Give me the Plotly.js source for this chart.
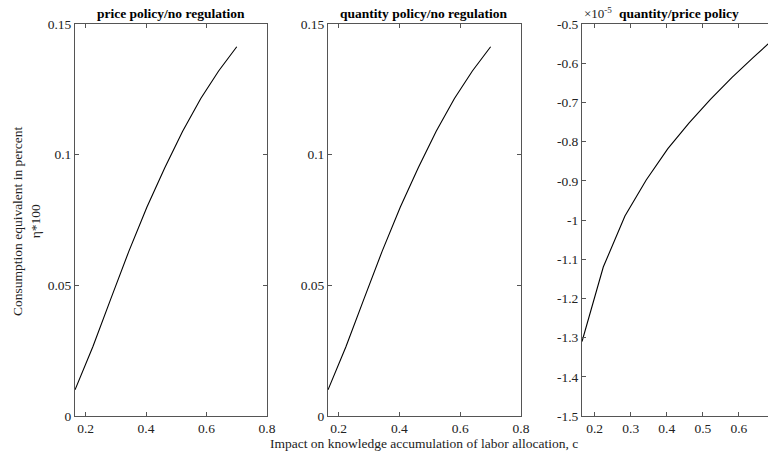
<!DOCTYPE html>
<html>
<head>
<meta charset="utf-8">
<script src="https://cdn.plot.ly/plotly-3.0.1.min.js"></script>
<style>
html,body{margin:0;padding:0;overflow:hidden;width:768px;height:451px;background:#fff;}
#chart{width:780px;height:451px;}
</style>
</head>
<body>
<div id="chart"></div>
<script>
// impact on knowledge accumulation of labor allocation, c
const c = [0.165, 0.224, 0.284, 0.343, 0.403, 0.462, 0.521, 0.581, 0.640, 0.700];
// consumption equivalent (eta*100), price policy vs no regulation
const priceVsNone = [0.010, 0.0265, 0.045, 0.063, 0.080, 0.095, 0.109, 0.1215, 0.132, 0.1413];
// quantity policy vs no regulation
const quantityVsNone = [0.010, 0.0265, 0.045, 0.063, 0.080, 0.095, 0.109, 0.1215, 0.132, 0.1413];
// quantity vs price policy, in units of 1e-5
const quantityVsPrice = [-1.31, -1.12, -0.99, -0.898, -0.818, -0.752, -0.692, -0.636, -0.585, -0.535];

const titles = ["price policy/no regulation", "quantity policy/no regulation", "quantity/price policy"];
const xTicks = [0.2, 0.4, 0.6, 0.8];
const x3Ticks = [0.2, 0.3, 0.4, 0.5, 0.6, 0.7];
const yTicks = [0, 0.05, 0.1, 0.15];
const y3Ticks = [-1.5, -1.4, -1.3, -1.2, -1.1, -1, -0.9, -0.8, -0.7, -0.6, -0.5];
const y3Labels = ["-1.5", "-1.4", "-1.3", "-1.2", "-1.1", "-1", "-0.9", "-0.8", "-0.7", "-0.6", "-0.5"];

const W = 780, H = 451;
const fam = "Liberation Serif, Times New Roman, serif";
const font = {family: fam, size: 13.5, color: "#222"};
const line = {color: "#000", width: 1.1};

const traces = [
  {x: c, y: priceVsNone, type: "scatter", mode: "lines", line: line, xaxis: "x", yaxis: "y", hoverinfo: "skip"},
  {x: c, y: quantityVsNone, type: "scatter", mode: "lines", line: line, xaxis: "x2", yaxis: "y2", hoverinfo: "skip"},
  {x: c, y: quantityVsPrice, type: "scatter", mode: "lines", line: line, xaxis: "x3", yaxis: "y3", hoverinfo: "skip"}
];

function ax(extra) {
  return Object.assign({
    showline: true, mirror: "ticks", linecolor: "#555", linewidth: 1,
    ticks: "inside", ticklen: 4, tickcolor: "#555", tickwidth: 1,
    showgrid: false, zeroline: false, tickfont: font, fixedrange: true
  }, extra);
}

const yDom = [(H - 416) / H, (H - 24) / H];
const d1 = [75 / W, 267 / W], d2 = [328 / W, 521 / W], d3 = [582 / W, 775 / W];
const tFont = {family: fam, size: 13.5, color: "#000"};

const layout = {
  width: W, height: H,
  margin: {l: 0, r: 0, t: 0, b: 0},
  paper_bgcolor: "#fff", plot_bgcolor: "#fff",
  showlegend: false,
  font: font,
  xaxis: ax({domain: d1, range: [0.165, 0.8], tickvals: xTicks, anchor: "y"}),
  yaxis: ax({domain: yDom, range: [0, 0.15], tickvals: yTicks, anchor: "x"}),
  xaxis2: ax({domain: d2, range: [0.165, 0.8], tickvals: xTicks, anchor: "y2"}),
  yaxis2: ax({domain: yDom, range: [0, 0.15], tickvals: yTicks, anchor: "x2"}),
  xaxis3: ax({domain: d3, range: [0.165, 0.7], tickvals: x3Ticks, anchor: "y3"}),
  yaxis3: ax({domain: yDom, range: [-1.5, -0.5], tickvals: y3Ticks, ticktext: y3Labels, anchor: "x3"}),
  annotations: [
    {text: "<b>" + titles[0] + "</b>", xref: "paper", yref: "paper", x: (d1[0] + d1[1]) / 2, y: (H - 23) / H, xanchor: "center", yanchor: "bottom", showarrow: false, font: tFont},
    {text: "<b>" + titles[1] + "</b>", xref: "paper", yref: "paper", x: (d2[0] + d2[1]) / 2, y: (H - 23) / H, xanchor: "center", yanchor: "bottom", showarrow: false, font: tFont},
    {text: "<b>" + titles[2] + "</b>", xref: "paper", yref: "paper", x: (d3[0] + d3[1]) / 2, y: (H - 23) / H, xanchor: "center", yanchor: "bottom", showarrow: false, font: tFont},
    {text: "×10<sup>-5</sup>", xref: "paper", yref: "paper", x: 582 / W, y: (H - 23) / H, xanchor: "left", yanchor: "bottom", showarrow: false, font: {family: fam, size: 13, color: "#222"}},
    {text: "Impact on knowledge accumulation of labor allocation, c", xref: "paper", yref: "paper", x: 424 / W, y: (H - 443) / H, xanchor: "center", yanchor: "middle", showarrow: false, font: {family: fam, size: 13.5, color: "#222"}},
    {text: "Consumption equivalent in percent<br>η*100", xref: "paper", yref: "paper", x: 26 / W, y: (H - 221) / H, xanchor: "center", yanchor: "middle", textangle: -90, showarrow: false, font: {family: fam, size: 13.5, color: "#222"}}
  ]
};

Plotly.newPlot("chart", traces, layout, {displayModeBar: false, staticPlot: true});
</script>
</body>
</html>
